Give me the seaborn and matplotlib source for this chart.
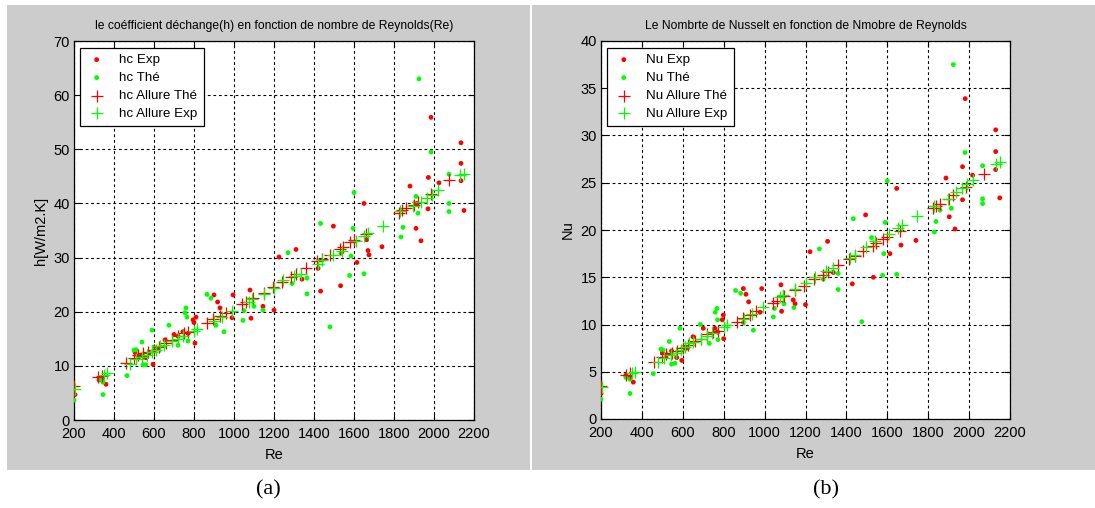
import seaborn as sns
import matplotlib.pyplot as plt
from matplotlib.patches import Rectangle

# ---- panel (a): heat transfer coefficient h vs Re ----
hc_exp_re = [205, 325, 342, 360, 505, 520, 540, 560, 575, 595, 600, 620, 655, 700, 720, 745, 770,
             795, 800, 805, 810, 900, 918, 930, 990, 995, 1080, 1085, 1145, 1200, 1225, 1310, 1340,
             1420, 1433, 1497, 1533, 1615, 1650, 1663, 1670, 1675, 1740, 1880, 1910, 1915, 1935,
             1970, 1972, 1985, 2025, 2135, 2135, 2135, 2150]
hc_exp = [4.7, 7.4, 7.3, 6.6, 12.5, 11.8, 12.0, 11.5, 12.3, 10.3, 12.8, 13.2, 14.8, 15.8, 15.5, 16.3, 16.0,
          18.5, 18.0, 14.2, 19.0, 23.1, 21.8, 20.7, 18.9, 23.1, 24.0, 18.8, 21.0, 20.3, 30.1, 31.5, 26.0,
          28.0, 23.8, 35.8, 24.8, 29.1, 40.0, 33.3, 31.3, 30.5, 32.0, 43.2, 35.4, 40.0, 33.1,
          39.0, 44.8, 55.9, 43.8, 51.2, 47.4, 44.2, 38.7]

hc_the_re = [200, 330, 345, 345, 465, 500, 510, 540, 545, 560, 590, 600, 675, 720, 755, 760, 765, 770,
             865, 885, 910, 950, 1045, 1050, 1100, 1145, 1270, 1290, 1365, 1365, 1433, 1480, 1535,
             1578, 1585, 1595, 1600, 1650, 1835, 1845, 1910, 1920, 1925, 1985, 2075, 2075, 2075]
hc_the = [3.7, 7.5, 4.7, 7.0, 8.2, 12.9, 13.0, 14.4, 10.2, 10.2, 16.6, 13.5, 17.5, 13.8, 19.8, 20.7, 19.0, 14.6,
          23.2, 22.5, 17.5, 16.3, 18.4, 20.2, 21.0, 20.3, 30.9, 25.2, 26.2, 23.3, 36.3, 17.2, 30.8,
          26.7, 30.3, 35.4, 42.0, 27.0, 33.8, 35.6, 41.3, 38.2, 63.0, 49.5, 45.4, 40.0, 38.5]

allure_the_re = [200, 320, 340, 460, 500, 520, 545, 570, 600, 625, 660, 690, 720, 750, 770, 865, 895, 930,
                 960, 1040, 1060, 1095, 1150, 1195, 1240, 1285, 1310, 1360, 1415, 1440, 1480, 1530, 1545,
                 1580, 1600, 1660, 1825, 1840, 1860, 1900, 1920, 1985, 2075]
hc_allure_the = [6.3, 8.0, 8.2, 10.5, 11.5, 12.0, 12.3, 12.6, 13.0, 13.4, 14.3, 14.8, 15.6, 16.0, 16.2, 18.0,
                 18.7, 19.2, 19.8, 21.4, 21.8, 22.5, 23.5, 24.5, 25.5, 26.5, 27.0, 28.0, 29.3, 29.8, 30.5,
                 31.6, 32.0, 32.8, 33.3, 34.3, 38.3, 38.7, 39.1, 39.8, 40.3, 41.7, 44.3]

allure_exp_re = [205, 350, 365, 480, 510, 540, 565, 590, 610, 630, 650, 690, 720, 745, 800, 815, 900, 940,
                 990, 1075, 1090, 1150, 1200, 1245, 1300, 1335, 1420, 1440, 1495, 1540, 1610, 1650, 1670,
                 1745, 1830, 1895, 1935, 1965, 1990, 2020, 2130, 2150]
hc_allure_exp = [5.8, 8.4, 8.6, 10.3, 11.2, 11.6, 12.0, 12.5, 13.0, 13.6, 13.8, 14.5, 15.0, 15.5, 16.5, 16.8,
                 18.3, 19.0, 20.2, 21.8, 22.3, 23.3, 24.3, 25.8, 26.6, 27.0, 28.8, 29.5, 30.5, 31.3, 33.0,
                 34.0, 34.5, 35.9, 38.6, 39.5, 40.3, 41.0, 41.5, 42.5, 45.2, 45.5]

# ---- panel (b): Nusselt number vs Re ----
nu_exp_re = [200, 322, 342, 358, 500, 520, 545, 570, 595, 615, 650, 700, 757, 770, 793, 798, 800,
             896, 909, 922, 978, 986, 1080, 1083, 1140, 1149, 1200, 1222, 1308, 1336, 1429, 1494,
             1532, 1613, 1646, 1667, 1740, 1887, 1903, 1931, 1968, 1968, 1981, 2017, 2130, 2130,
             2130, 2150]
nu_exp = [2.7, 4.6, 4.4, 3.9, 7.0, 6.8, 7.2, 6.5, 6.2, 7.5, 8.7, 9.6, 9.6, 9.2, 10.5, 11.0, 8.5,
          13.8, 13.2, 12.4, 11.3, 13.8, 14.2, 11.4, 12.6, 12.2, 12.1, 17.7, 18.8, 15.5, 14.3, 21.6,
          15.0, 17.5, 24.4, 18.4, 18.9, 25.5, 21.4, 20.1, 23.2, 26.7, 33.9, 25.8, 30.6, 28.3,
          26.4, 23.4]

nu_the_re = [200, 322, 342, 342, 456, 493, 503, 534, 545, 562, 586, 686, 730, 759, 767, 770, 772,
             858, 883, 896, 945, 1043, 1048, 1095, 1143, 1268, 1287, 1360, 1360, 1434, 1475, 1523,
             1577, 1583, 1590, 1600, 1646, 1830, 1838, 1858, 1913, 1923, 1980, 2066, 2066, 2066]
nu_the = [2.1, 4.4, 2.7, 4.2, 4.8, 7.4, 7.3, 8.2, 5.8, 5.9, 9.6, 10.0, 8.0, 11.3, 11.7, 10.5, 8.4,
          13.6, 13.3, 10.2, 9.4, 10.8, 11.7, 12.2, 11.8, 18.0, 14.8, 15.4, 13.7, 21.2, 10.3, 19.2,
          15.2, 17.5, 20.8, 25.2, 15.3, 19.8, 20.9, 22.1, 22.3, 37.5, 28.2, 26.8, 23.3, 22.8]

nu_allure_the = [3.5, 4.7, 4.9, 6.0, 6.6, 6.9, 7.0, 7.2, 7.5, 7.8, 8.3, 8.5, 9.0, 9.2, 9.3, 10.3, 10.7,
                 11.0, 11.4, 12.3, 12.5, 13.0, 13.6, 14.1, 14.8, 15.2, 15.6, 16.3, 16.9, 17.2, 17.8,
                 18.3, 18.6, 19.0, 19.3, 19.9, 22.3, 22.5, 22.8, 23.3, 23.7, 24.6, 25.9]
nu_allure_exp = [3.4, 4.9, 5.0, 6.0, 6.5, 6.8, 7.0, 7.3, 7.6, 8.0, 8.1, 8.5, 8.8, 9.1, 9.7, 9.9, 10.6,
                 11.1, 11.9, 12.9, 13.1, 13.8, 14.4, 15.0, 15.7, 16.0, 17.0, 17.4, 18.2, 18.8, 19.6,
                 20.2, 20.5, 21.5, 22.5, 23.3, 24.0, 24.4, 24.9, 25.3, 27.0, 27.2]

legend_a = ['hc Exp', 'hc Thé', 'hc Allure Thé', 'hc Allure Exp']
legend_b = ['Nu Exp', 'Nu Thé', 'Nu Allure Thé', 'Nu Allure Exp']

W, H = 1095, 508
plt.rcParams['font.family'] = ['Liberation Sans', 'DejaVu Sans']

fig = plt.figure(figsize=(W / 100, H / 100), dpi=100)
fig.patch.set_facecolor('white')

# grey matlab figure backgrounds, drawn behind the axes
fig.patches.append(Rectangle((7 / W, 38 / H), 523 / W, 465 / H, transform=fig.transFigure,
                             facecolor='#cccccc', edgecolor='none', zorder=-10))
fig.patches.append(Rectangle((532 / W, 38 / H), 563 / W, 465 / H, transform=fig.transFigure,
                             facecolor='#cccccc', edgecolor='none', zorder=-10))


def draw_panel(ax, series, labels, title, ylabel, ymax, ystep):
    red, green = '#ff0000', '#00ff00'
    styles = [(red, 'o', 12), (green, 'o', 12), (red, '+', 85), (green, '+', 85)]
    for (x, y), (c, m, s), lab in zip(series, styles, labels):
        if m == 'o':
            sns.scatterplot(x=x, y=y, ax=ax, color=c, marker='o', s=s, edgecolor='none',
                            label=lab, zorder=3)
        else:
            sns.scatterplot(x=x, y=y, ax=ax, color=c, marker='+', s=s, linewidth=0.9,
                            label=lab, zorder=4)
    ax.set_facecolor('white')
    ax.set_xlim(200, 2200)
    ax.set_ylim(0, ymax)
    ax.set_xticks(range(200, 2201, 200))
    ax.set_yticks(range(0, ymax + 1, ystep))
    ax.grid(True, color='black', linestyle=(0, (2.5, 2.5)), linewidth=0.8)
    ax.set_axisbelow(True)
    ax.tick_params(direction='in', top=True, right=True, length=4, labelsize=10.5)
    ax.tick_params(axis='x', pad=5)
    ax.tick_params(axis='y', pad=3)
    for sp in ax.spines.values():
        sp.set_color('black')
        sp.set_linewidth(0.9)
    ax.set_title(title, fontsize=8.7, pad=9)
    ax.set_xlabel('Re', fontsize=10.5, labelpad=5)
    ax.set_ylabel(ylabel, fontsize=10.5, labelpad=4)
    leg = ax.legend(loc='upper left', bbox_to_anchor=(0.015, 0.982), fontsize=9.6,
                    frameon=True, fancybox=False, edgecolor='black', framealpha=1,
                    borderpad=0.45, labelspacing=0.42, handletextpad=0.9, handlelength=1.6,
                    borderaxespad=0)
    leg.get_frame().set_linewidth(0.9)


ax1 = fig.add_axes([74 / W, 88 / H, 400 / W, 379 / H])
draw_panel(ax1,
           [(hc_exp_re, hc_exp), (hc_the_re, hc_the),
            (allure_the_re, hc_allure_the), (allure_exp_re, hc_allure_exp)],
           legend_a, 'le coéfficient déchange(h) en fonction de nombre de Reynolds(Re)',
           'h[W/m2.K]', 70, 10)

ax2 = fig.add_axes([601 / W, 89 / H, 409 / W, 378 / H])
draw_panel(ax2,
           [(nu_exp_re, nu_exp), (nu_the_re, nu_the),
            (allure_the_re, nu_allure_the), (allure_exp_re, nu_allure_exp)],
           legend_b, 'Le Nombrte de Nusselt en fonction de Nmobre de Reynolds',
           'Nu', 40, 5)

fig.text(268 / W, 1 - 490 / H, '(a)', ha='center', va='center',
         family='Liberation Serif', fontsize=16)
fig.text(826 / W, 1 - 490 / H, '(b)', ha='center', va='center',
         family='Liberation Serif', fontsize=16)

fig.savefig('out.png', dpi=100, facecolor=fig.get_facecolor())
